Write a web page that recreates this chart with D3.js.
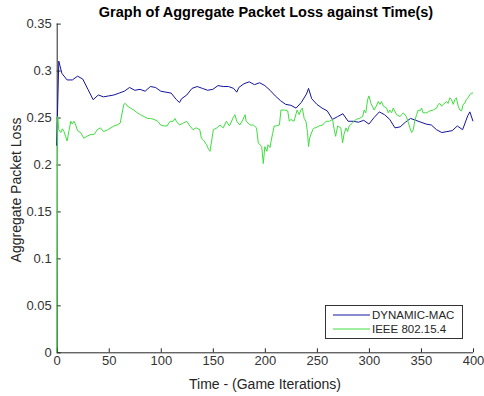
<!DOCTYPE html>
<html>
<head>
<meta charset="utf-8">
<script src="https://cdn.jsdelivr.net/npm/d3@7"></script>
<style>
  body { margin: 0; background: #fff; }
  text { font-family: "Liberation Sans", Arial, sans-serif; }
</style>
</head>
<body>
<svg width="484" height="396"></svg>
<script>
// DYNAMIC-MAC (blue)
var macIter = [0, 2, 5, 10, 15, 20, 25, 30, 35, 40, 45, 50, 55, 60, 65, 70, 75, 80, 85, 90, 95, 100,
  105, 110, 115, 118, 120, 125, 130, 135, 140, 145, 150, 155, 160, 165, 170, 173, 175, 180, 185, 190,
  195, 200, 205, 210, 215, 220, 225, 230, 235, 240, 242, 245, 250, 255, 260, 265, 270, 275, 280, 285,
  290, 295, 300, 305, 310, 315, 320, 325, 330, 335, 340, 345, 350, 355, 360, 365, 370, 375, 380, 385,
  390, 395, 397, 400];
var macLoss = [0.22, 0.31, 0.297, 0.29, 0.29, 0.294, 0.291, 0.28, 0.269, 0.274, 0.272, 0.273, 0.274,
  0.276, 0.278, 0.282, 0.279, 0.28, 0.278, 0.283, 0.282, 0.278, 0.277, 0.276, 0.269, 0.266, 0.27,
  0.274, 0.281, 0.283, 0.281, 0.279, 0.28, 0.284, 0.283, 0.283, 0.281, 0.277, 0.282, 0.286, 0.288,
  0.285, 0.287, 0.284, 0.279, 0.273, 0.268, 0.264, 0.263, 0.26, 0.266, 0.275, 0.281, 0.27, 0.264,
  0.26, 0.257, 0.248, 0.251, 0.254, 0.246, 0.246, 0.245, 0.247, 0.243, 0.25, 0.256, 0.253, 0.248,
  0.239, 0.24, 0.245, 0.249, 0.247, 0.245, 0.243, 0.242, 0.237, 0.234, 0.235, 0.236, 0.241, 0.237,
  0.252, 0.256, 0.246];

// IEEE 802.15.4 (green)
var ieeeIter = [0, 1, 2, 4, 5.5, 7, 8.5, 10, 12, 13.5, 15, 16.5, 18, 20, 23, 26, 29, 33, 36, 39, 42,
  45, 49, 52, 55, 58, 61, 64.5, 66, 68, 71, 74, 77.5, 80.5, 84, 87, 90, 93.5, 97, 100, 103, 106, 109,
  112, 113.6, 115, 118, 121.6, 125, 128, 131, 134, 137.5, 139, 141, 144, 146, 147.3, 149, 150.5, 154,
  157, 160, 163, 166, 170, 171.3, 173, 176, 179, 181, 182, 186, 189, 192, 193.7, 197, 198.5, 200, 202,
  203, 205, 206, 207.5, 209, 211, 214, 215.5, 218.7, 222, 223.5, 225, 228, 231, 233, 234.6, 236,
  237.8, 239.5, 241, 242, 243, 246, 247.5, 249, 252, 255.5, 258.7, 262, 265, 266.7, 268, 270, 273,
  274.7, 276, 278, 279.5, 281, 284, 287.5, 290.7, 294, 295.5, 297, 298.7, 300, 302, 305, 307, 309,
  310.6, 312, 314, 317, 318.6, 320, 321.8, 323.4, 326.6, 330, 331.4, 333, 336, 338, 339.4, 341,
  342.6, 344, 345.8, 347.4, 349, 350.6, 352, 355.3, 358.6, 361.8, 365, 366.6, 368.2, 369.8, 371.4,
  374.6, 376, 377.8, 379.4, 381, 382.6, 384, 385.8, 387.4, 389, 390.5, 392, 393.6, 395.2, 396.8,
  398.4, 400];
var ieeeLoss = [0, 0.251, 0.237, 0.234, 0.238, 0.235, 0.23, 0.225, 0.237, 0.246, 0.243, 0.246, 0.243,
  0.236, 0.234, 0.228, 0.23, 0.232, 0.232, 0.237, 0.239, 0.235, 0.237, 0.239, 0.241, 0.242, 0.244,
  0.264, 0.265, 0.262, 0.26, 0.258, 0.255, 0.253, 0.251, 0.249, 0.249, 0.248, 0.246, 0.242, 0.241,
  0.241, 0.246, 0.246, 0.249, 0.246, 0.242, 0.244, 0.246, 0.241, 0.237, 0.239, 0.237, 0.228, 0.226,
  0.221, 0.216, 0.214, 0.226, 0.237, 0.239, 0.242, 0.239, 0.246, 0.241, 0.251, 0.253, 0.246, 0.242,
  0.248, 0.253, 0.246, 0.242, 0.242, 0.239, 0.223, 0.219, 0.201, 0.219, 0.214, 0.221, 0.218, 0.225,
  0.233, 0.241, 0.241, 0.242, 0.258, 0.258, 0.257, 0.246, 0.248, 0.246, 0.258, 0.253, 0.258, 0.26,
  0.249, 0.246, 0.234, 0.219, 0.228, 0.237, 0.239, 0.239, 0.241, 0.242, 0.246, 0.246, 0.248, 0.237,
  0.23, 0.241, 0.239, 0.223, 0.232, 0.239, 0.235, 0.241, 0.244, 0.248, 0.249, 0.251, 0.258, 0.255,
  0.269, 0.273, 0.265, 0.258, 0.262, 0.267, 0.264, 0.267, 0.262, 0.26, 0.255, 0.258, 0.255, 0.26,
  0.253, 0.251, 0.253, 0.255, 0.251, 0.244, 0.239, 0.234, 0.237, 0.246, 0.253, 0.258, 0.257, 0.26,
  0.255, 0.255, 0.257, 0.258, 0.26, 0.264, 0.265, 0.262, 0.264, 0.267, 0.265, 0.271, 0.269, 0.264,
  0.269, 0.271, 0.262, 0.258, 0.257, 0.264, 0.265, 0.269, 0.271, 0.274, 0.276, 0.276];

var xTicks = [0, 50, 100, 150, 200, 250, 300, 350, 400];
var yTicks = [0, 0.05, 0.1, 0.15, 0.2, 0.25, 0.3, 0.35];
var seriesNames = ["DYNAMIC-MAC", "IEEE 802.15.4"];
var seriesColors = ["#14149e", "#3ede3e"];

var svg = d3.select("svg");
var axisColor = "#262626";

var x = d3.scaleLinear().domain([0, 400]).range([56.7, 473]);
var y = d3.scaleLinear().domain([0, 0.35]).range([352.3, 23.6]);

var xAxis = svg.append("g")
  .attr("transform", "translate(0," + y(0) + ")")
  .call(d3.axisBottom(x).tickValues(xTicks).tickSize(-4).tickPadding(3).tickFormat(d3.format("d")));
var yAxis = svg.append("g")
  .attr("transform", "translate(" + x(0) + ",0)")
  .call(d3.axisLeft(y).tickValues(yTicks).tickSize(-4).tickPadding(5)
    .tickFormat(function(d) { return String(+d.toFixed(2)); }));

[xAxis, yAxis].forEach(function(a) {
  a.select(".domain").attr("stroke", axisColor);
  a.selectAll(".tick line").attr("stroke", axisColor);
  a.selectAll(".tick text")
    .style("font-family", "Liberation Sans, Arial, sans-serif")
    .style("font-size", "13px")
    .attr("fill", "#333");
});
xAxis.select(".domain").attr("d", "M" + x(0) + ",0.5H" + x(400));
yAxis.select(".domain").attr("d", "M0.5," + y(0) + "V" + y(0.35));

var line = d3.line()
  .x(function(d) { return x(d[0]); })
  .y(function(d) { return y(d[1]); });

var macData = macIter.map(function(t, i) { return [t, macLoss[i]]; });
var ieeeData = ieeeIter.map(function(t, i) { return [t, ieeeLoss[i]]; });

svg.append("path").datum(macData)
  .attr("d", line).attr("fill", "none")
  .attr("stroke", seriesColors[0]).attr("stroke-width", 1);
svg.append("path").datum(ieeeData)
  .attr("d", line).attr("fill", "none")
  .attr("stroke", seriesColors[1]).attr("stroke-width", 1);

// title and axis labels
svg.append("text")
  .attr("x", 266).attr("y", 17)
  .attr("text-anchor", "middle")
  .style("font-size", "14.5px").style("font-weight", "bold")
  .text("Graph of Aggregate Packet Loss against Time(s)");

svg.append("text")
  .attr("x", 265).attr("y", 389)
  .attr("text-anchor", "middle")
  .style("font-size", "14px").attr("fill", "#262626")
  .text("Time - (Game Iterations)");

svg.append("text")
  .attr("transform", "translate(21,190) rotate(-90)")
  .attr("text-anchor", "middle")
  .style("font-size", "14px").attr("fill", "#262626")
  .text("Aggregate Packet Loss");

// legend
var legend = svg.append("g");
legend.append("rect")
  .attr("x", 325.5).attr("y", 305.5).attr("width", 137).attr("height", 33)
  .attr("fill", "#fff").attr("stroke", "#333").attr("stroke-width", 1);

var item = legend.selectAll(".item")
  .data(seriesNames)
  .enter().append("g")
  .attr("transform", function(d, i) { return "translate(0," + (315 + i * 14) + ")"; });
item.append("line")
  .attr("x1", 333).attr("x2", 370)
  .attr("stroke", function(d, i) { return seriesColors[i]; });
item.append("text")
  .attr("x", 372).attr("dy", "0.35em")
  .style("font-size", "11.5px").attr("fill", "#262626")
  .text(function(d) { return d; });
</script>
</body>
</html>
